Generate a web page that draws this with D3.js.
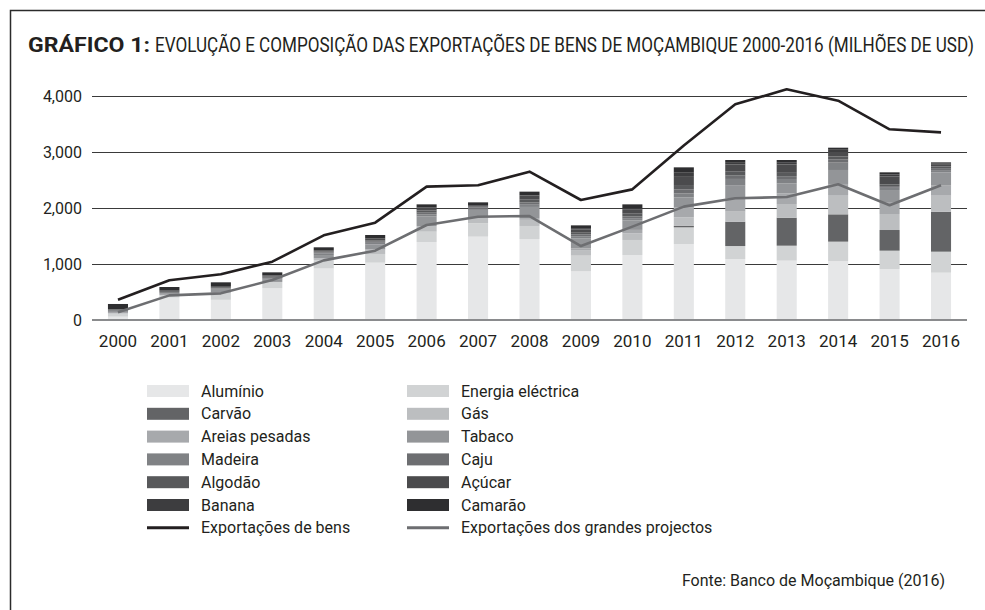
<!DOCTYPE html>
<html>
<head>
<meta charset="utf-8">
<script src="https://cdn.jsdelivr.net/npm/d3@7"></script>
<style>
  body { margin: 0; background: #fff; }
  svg { display: block; }
</style>
</head>
<body>
<svg id="chart"></svg>
<script>
const years = ["2000","2001","2002","2003","2004","2005","2006","2007","2008","2009","2010","2011","2012","2013","2014","2015","2016"];

// stacked series, bottom -> top
const aluminio  = [60, 400, 360, 570, 920, 1024, 1393, 1488, 1446, 869, 1161, 1357, 1089, 1060, 1050, 911, 845];
const energia   = [60, 50, 130, 110, 150, 155, 184, 238, 233, 280, 268, 298, 232, 267, 349, 327, 375];
const carvao    = [0, 0, 0, 0, 0, 0, 0, 0, 0, 0, 0, 25, 435, 500, 488, 369, 714];
const gas       = [0, 0, 0, 0, 30, 80, 100, 110, 110, 90, 120, 153, 179, 244, 345, 286, 286];
const areias    = [0, 0, 0, 0, 0, 0, 0, 0, 30, 40, 60, 173, 238, 190, 197, 200, 179];
const tabaco    = [15, 20, 50, 40, 60, 90, 170, 130, 200, 180, 170, 184, 226, 179, 250, 228, 238];
const madeira   = [15, 15, 20, 25, 30, 30, 40, 30, 40, 30, 30, 70, 120, 78, 131, 40, 40];
const caju      = [20, 15, 10, 10, 15, 20, 30, 15, 40, 40, 40, 70, 60, 50, 60, 30, 35];
const algodao   = [15, 15, 15, 20, 20, 20, 40, 20, 50, 30, 50, 80, 70, 60, 50, 30, 30];
const acucar    = [10, 10, 20, 20, 20, 40, 50, 20, 70, 60, 80, 160, 130, 150, 80, 140, 30];
const banana    = [0, 0, 0, 0, 0, 0, 0, 0, 10, 10, 20, 60, 40, 40, 40, 40, 20];
const camarao   = [91, 64, 68, 56, 53, 59, 58, 50, 63, 61, 66, 96, 38, 39, 37, 36, 23];

// lines
const exportBens       = [360, 709, 816, 1041, 1512, 1738, 2381, 2405, 2649, 2143, 2333, 3118, 3851, 4119, 3917, 3405, 3351];
const exportProjectos  = [137, 440, 476, 714, 1065, 1238, 1696, 1845, 1857, 1321, 1667, 2024, 2173, 2196, 2423, 2048, 2405];

const yTicks = [0, 1000, 2000, 3000, 4000];

const seriesNames  = ["Alumínio","Energia eléctrica","Carvão","Gás","Areias pesadas","Tabaco","Madeira","Caju","Algodão","Açúcar","Banana","Camarão"];
const seriesValues = [aluminio, energia, carvao, gas, areias, tabaco, madeira, caju, algodao, acucar, banana, camarao];
const seriesColors = ["#e6e7e8","#d1d3d4","#636466","#bcbec0","#a7a9ac","#939598","#808285","#6d6e71","#58595b","#4b4b4d","#3d3d3f","#2e2e30"];

const lineNames  = ["Exportações de bens","Exportações dos grandes projectos"];
const lineColors = ["#231f20","#6d6e71"];

const W = 985, H = 610;
const FONT = "Roboto, 'Noto Sans', sans-serif";
const plot = {left: 92, right: 967, top: 96, bottom: 320};

const svg = d3.select("#chart").attr("width", W).attr("height", H);

const x = d3.scaleBand()
  .domain(years)
  .range([plot.left, plot.right])
  .paddingInner(0.61)
  .paddingOuter(0.31);

const y = d3.scaleLinear()
  .domain([0, 4000])
  .range([plot.bottom, plot.top]);

// squeeze a text horizontally so it fills `width` (condensed look of the original)
function condensed(sel, x0, y0, width){
  const w = sel.node().getComputedTextLength();
  sel.attr("transform", `translate(${x0},${y0}) scale(${width / w},1)`);
}

function frameCreate(){
  svg.append("path")
    .attr("d", `M10.5,${H} L10.5,10.5 L${W},10.5`)
    .attr("fill", "none")
    .attr("stroke", "#2b2b2b")
    .attr("stroke-width", 1.5);

  let lead = svg.append("text")
    .attr("font-family", FONT)
    .attr("font-size", 21)
    .attr("font-weight", "bold")
    .attr("fill", "#231f20")
    .text("GRÁFICO 1:");
  condensed(lead, 28, 52, 122);

  let rest = svg.append("text")
    .attr("font-family", FONT)
    .attr("font-size", 21)
    .attr("fill", "#231f20")
    .text("EVOLUÇÃO E COMPOSIÇÃO DAS EXPORTAÇÕES DE BENS DE MOÇAMBIQUE 2000-2016 (MILHÕES DE USD)");
  condensed(rest, 155, 52, 820);

  svg.append("text")
    .attr("x", 945)
    .attr("y", 586)
    .attr("text-anchor", "end")
    .attr("font-family", FONT)
    .attr("font-size", 16)
    .attr("fill", "#231f20")
    .text("Fonte: Banco de Moçambique (2016)");
}

function gridCreate(){
  let g = svg.append("g");
  g.selectAll("line")
    .data(yTicks.filter(d => d > 0))
    .enter()
    .append("line")
    .attr("x1", plot.left)
    .attr("x2", plot.right)
    .attr("y1", d => Math.round(y(d)) + 0.5)
    .attr("y2", d => Math.round(y(d)) + 0.5)
    .attr("stroke", "#3a3a3a")
    .attr("stroke-width", 1.2);

  g.selectAll("text")
    .data(yTicks)
    .enter()
    .append("text")
    .attr("x", 82)
    .attr("y", d => y(d))
    .attr("text-anchor", "end")
    .attr("dominant-baseline", "central")
    .attr("font-family", FONT)
    .attr("font-size", 16)
    .attr("fill", "#231f20")
    .text(d => d3.format(",")(d));
}

function barCreate(){
  const table = years.map((yr, i) => {
    let row = {year: yr};
    seriesNames.forEach((n, k) => row[n] = seriesValues[k][i]);
    return row;
  });
  const stacked = d3.stack().keys(seriesNames)(table);

  svg.append("g")
    .selectAll("g")
    .data(stacked)
    .enter()
    .append("g")
    .attr("fill", (d, k) => seriesColors[k])
    .selectAll("rect")
    .data(d => d.filter(p => p[1] > p[0]))
    .enter()
    .append("rect")
    .attr("x", p => x(p.data.year))
    .attr("y", p => y(p[1]))
    .attr("width", x.bandwidth())
    .attr("height", p => y(p[0]) - y(p[1]));
}

function axisCreate(){
  svg.append("line")
    .attr("x1", plot.left)
    .attr("x2", plot.right)
    .attr("y1", y(0))
    .attr("y2", y(0))
    .attr("stroke", "#8a8b8d")
    .attr("stroke-width", 2);

  svg.append("g")
    .selectAll("text")
    .data(years)
    .enter()
    .append("text")
    .attr("x", d => x(d) + x.bandwidth() / 2)
    .attr("y", 341)
    .attr("text-anchor", "middle")
    .attr("dominant-baseline", "central")
    .attr("font-family", FONT)
    .attr("font-size", 17)
    .attr("fill", "#231f20")
    .text(d => d);
}

function lineCreate(){
  const line = d3.line()
    .x((d, i) => x(years[i]) + x.bandwidth() / 2)
    .y(d => y(d));

  [exportBens, exportProjectos].forEach((vals, k) => {
    svg.append("path")
      .datum(vals)
      .attr("d", line)
      .attr("fill", "none")
      .attr("stroke", lineColors[k])
      .attr("stroke-width", 2.6)
      .attr("stroke-linejoin", "round");
  });
}

function legendCreate(){
  const colX = [147, 407];
  const rowY = (r) => 391 + r * 22.8;
  let leg = svg.append("g");

  seriesNames.forEach((n, k) => {
    let cx = colX[k % 2];
    let cy = rowY(Math.floor(k / 2));
    leg.append("rect")
      .attr("x", cx)
      .attr("y", cy - 6)
      .attr("width", 42)
      .attr("height", 12)
      .attr("fill", seriesColors[k]);
    leg.append("text")
      .attr("x", cx + 54)
      .attr("y", cy)
      .attr("dominant-baseline", "central")
      .attr("font-family", FONT)
      .attr("font-size", 16)
      .attr("fill", "#231f20")
      .text(n);
  });

  lineNames.forEach((n, k) => {
    let cx = colX[k];
    let cy = rowY(6);
    leg.append("line")
      .attr("x1", cx)
      .attr("x2", cx + 42)
      .attr("y1", cy)
      .attr("y2", cy)
      .attr("stroke", lineColors[k])
      .attr("stroke-width", 3);
    leg.append("text")
      .attr("x", cx + 54)
      .attr("y", cy)
      .attr("dominant-baseline", "central")
      .attr("font-family", FONT)
      .attr("font-size", 16)
      .attr("fill", "#231f20")
      .text(n);
  });
}

frameCreate();
gridCreate();
barCreate();
axisCreate();
lineCreate();
legendCreate();
</script>
</body>
</html>
